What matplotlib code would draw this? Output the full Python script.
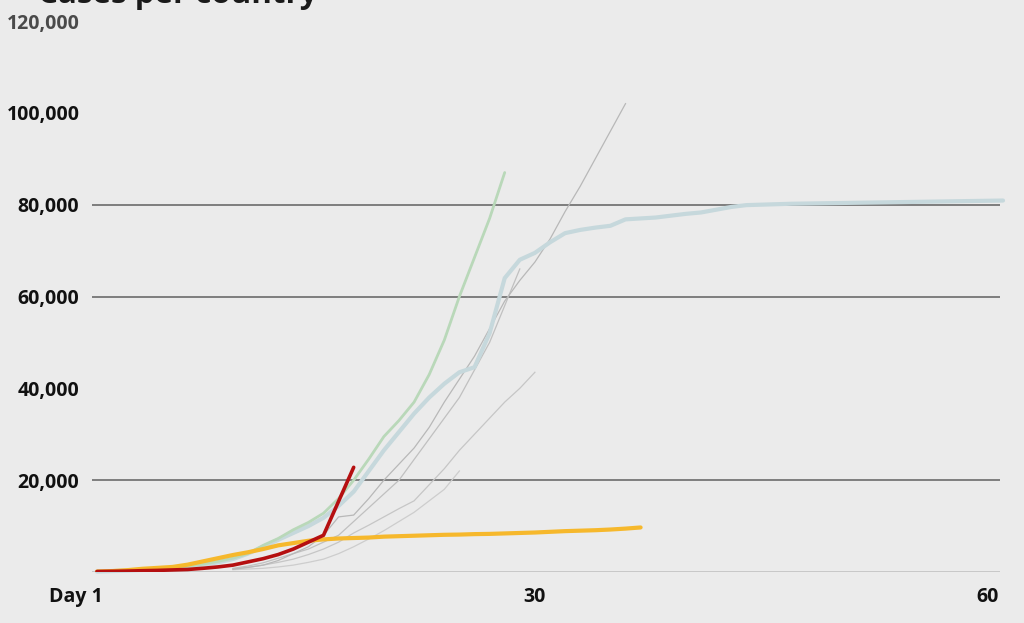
import matplotlib
matplotlib.use("Agg")
import matplotlib.pyplot as plt
import matplotlib.transforms as mtransforms

# ---- data (cases per country by day since day 1) ----
red_days = list(range(1, 17)) + [18]
red_vals = [100, 150, 200, 280, 350, 450, 550, 800, 1100, 1500, 2200, 2900,
            3800, 5000, 6500, 8000, 22800]

yellow_days = list(range(1, 38))
yellow_vals = [100, 200, 400, 700, 900, 1100, 1600, 2300, 3000, 3700, 4300, 5000,
               5800, 6300, 6800, 7100, 7300, 7400, 7500, 7700, 7800, 7900, 8000,
               8100, 8150, 8250, 8300, 8400, 8500, 8600, 8750, 8900, 9000, 9100,
               9250, 9450, 9700]

green_days = list(range(1, 29))
green_vals = [150, 200, 300, 400, 600, 800, 1200, 1700, 2300, 3000, 4000, 5800,
              7300, 9200, 10800, 12800, 16000, 20000, 24600, 29500, 33000, 37000,
              43000, 50500, 60000, 68500, 77000, 87000]

blue_days = list(range(1, 62))
blue_vals = [100, 200, 300, 450, 600, 800, 1100, 1600, 2100, 2800, 4000, 5500,
             7000, 8500, 10000, 11800, 14400, 17500, 22000, 26500, 30500, 34500,
             38000, 41000, 43500, 44600, 52000, 64000, 68000, 69500, 71800, 73800,
             74500, 75000, 75400, 76800, 77000, 77200, 77600, 78000, 78300, 78900,
             79500, 79900, 80000, 80100, 80200, 80250, 80300, 80350, 80400, 80450,
             80500, 80550, 80600, 80650, 80700, 80750, 80800, 80850, 80900]

grey_a_days = list(range(10, 37))
grey_a_vals = [600, 1000, 1500, 2500, 4000, 5500, 8000, 12000, 12400, 16000,
               20000, 23500, 27000, 31500, 37000, 42000, 47000, 53000, 59000,
               63500, 67500, 72500, 78500, 84000, 90000, 96000, 102000]

grey_b_days = list(range(10, 30))
grey_b_vals = [800, 1300, 2000, 3000, 4000, 5000, 6500, 8000, 11000, 14000,
               17000, 20000, 24500, 29000, 33500, 38000, 44000, 50000, 58000, 66000]

grey_d_days = list(range(10, 31))
grey_d_vals = [700, 1000, 1500, 2100, 2800, 3800, 5000, 6500, 8500, 10200, 12000,
               13800, 15500, 19000, 22500, 26500, 30000, 33500, 37000, 40000, 43500]

grey_e_days = list(range(10, 26))
grey_e_vals = [500, 650, 800, 1100, 1500, 2100, 2800, 4000, 5500, 7200, 9000,
               11000, 13000, 15500, 18000, 22000]

x_ticks = [1, 30, 60]
x_labels = ["Day 1", "30", "60"]
y_ticks = [20000, 40000, 60000, 80000, 100000, 120000]
y_labels = ["20,000", "40,000", "60,000", "80,000", "100,000", "120,000"]
dark_grid = [20000, 60000, 80000]
title = "Cases per country"

# ---- figure ----
W, H = 1024, 623
fig = plt.figure(figsize=(W / 100, H / 100), dpi=100)
bg = "#ebebeb"
fig.patch.set_facecolor(bg)

left, right, bottom, top = 92, 1000, 572, 21
ax = fig.add_axes([left / W, (H - bottom) / H, (right - left) / W, (bottom - top) / H])
ax.set_facecolor(bg)
ax.set_xlim(0.67, 60.8)
ax.set_ylim(0, 120000)
for s in ax.spines.values():
    s.set_visible(False)

# gridlines
for g in dark_grid:
    ax.axhline(g, color="#757575", lw=1.3, zorder=1)
ax.axhline(0, color="#c4c4c4", lw=2.0, zorder=1)

# grey background countries
ax.plot(grey_e_days, grey_e_vals, color="#cdcdcd", lw=0.9, zorder=2)
ax.plot(grey_d_days, grey_d_vals, color="#c6c6c6", lw=0.9, zorder=2)
ax.plot(grey_b_days, grey_b_vals, color="#c0c0c0", lw=0.9, zorder=2)
ax.plot(grey_a_days, grey_a_vals, color="#b8b8b8", lw=0.9, zorder=2)

# highlighted countries
ax.plot(blue_days, blue_vals, color="#c6d8dc", lw=3.0, zorder=3,
        solid_capstyle="round", clip_on=False)
ax.plot(green_days, green_vals, color="#b9d8b9", lw=2.0, zorder=4,
        solid_capstyle="round")
ax.plot(yellow_days, yellow_vals, color="#f6b82c", lw=3.0, zorder=5,
        solid_capstyle="round")
ax.plot(red_days, red_vals, color="#b50f10", lw=2.6, zorder=6,
        solid_capstyle="round", solid_joinstyle="round")

# ticks
ax.set_yticks(y_ticks)
ax.set_yticklabels(y_labels)
ax.set_xticks(x_ticks)
ax.set_xticklabels(x_labels)
ax.tick_params(axis="both", length=0)
ax.tick_params(axis="y", pad=9)
ax.tick_params(axis="x", pad=11)
for lab in ax.get_yticklabels():
    lab.set_fontfamily("Open Sans")
    lab.set_fontweight("bold")
    lab.set_fontsize(14)
    lab.set_color("#111111")
ax.get_yticklabels()[-1].set_color("#4a4a4a")
for lab in ax.get_xticklabels():
    lab.set_fontfamily("Open Sans")
    lab.set_fontweight("bold")
    lab.set_fontsize(14)
    lab.set_color("#111111")
xl = ax.get_xticklabels()[0]
xl.set_horizontalalignment("right")
xl.set_transform(xl.get_transform() + mtransforms.ScaledTranslation(6 / 100, 0, fig.dpi_scale_trans))

# title (cut off at top, as in the source frame)
fig.text(38 / W, 1 - 3 / H, title, fontfamily="Open Sans", fontweight="bold",
         fontsize=22.5, color="#1a1a1a", ha="left", va="baseline")

fig.savefig("out.png", dpi=100, facecolor=bg)
